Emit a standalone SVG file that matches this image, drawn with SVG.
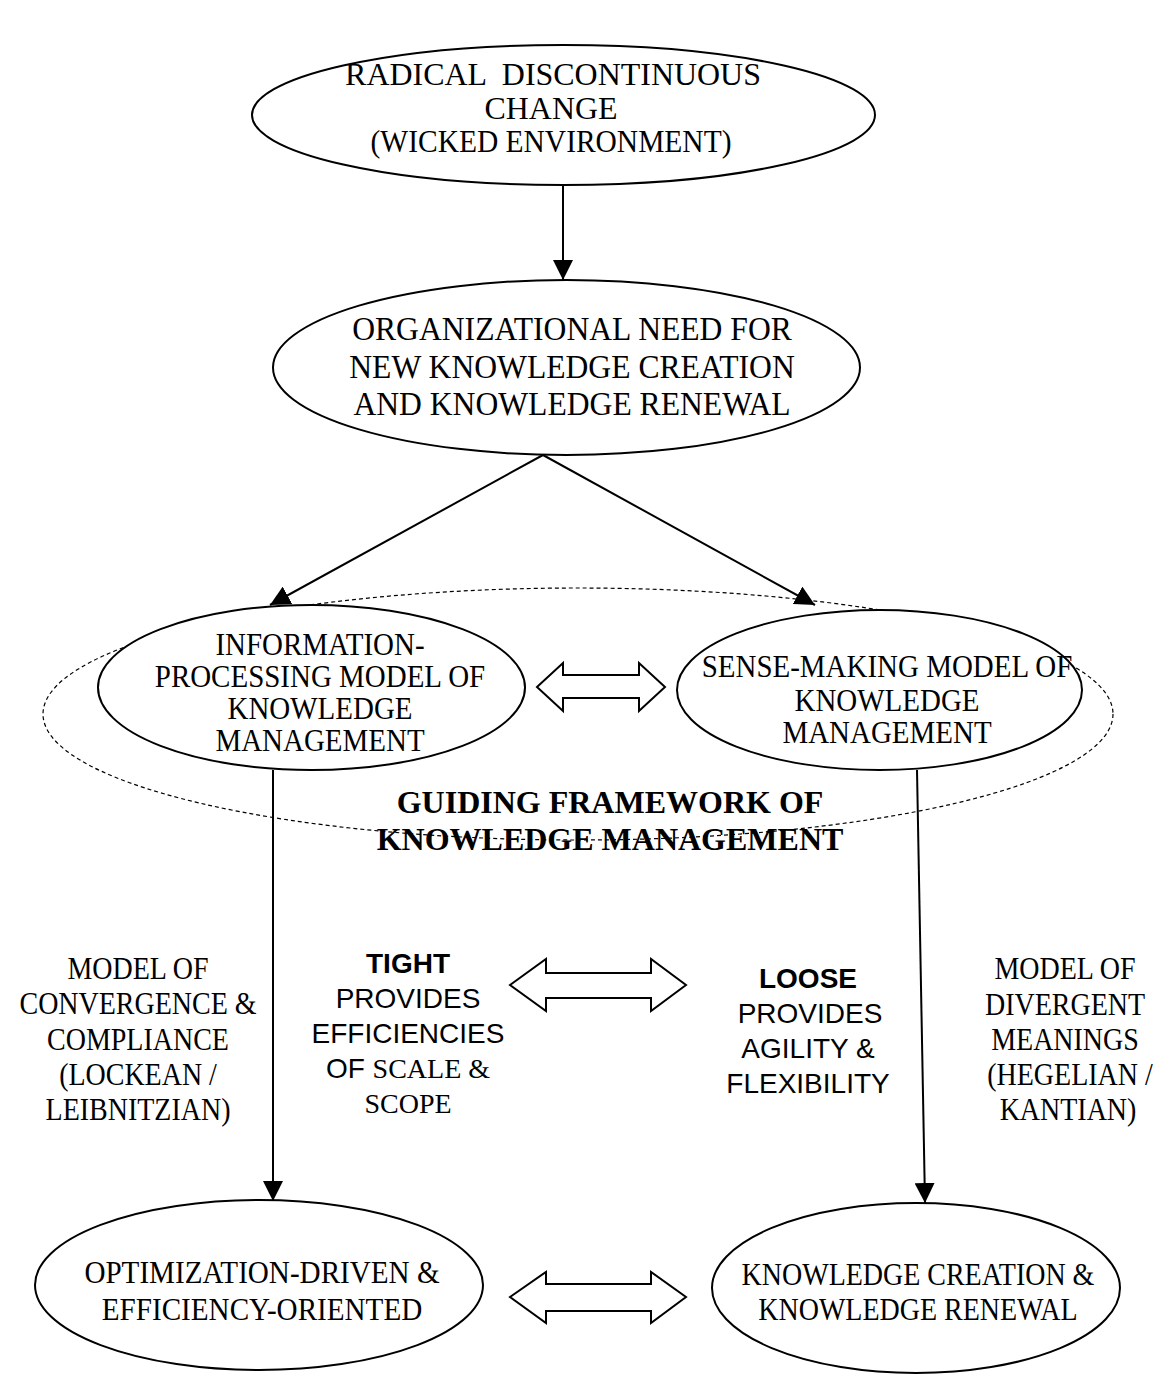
<svg xmlns="http://www.w3.org/2000/svg" width="1173" height="1376" viewBox="0 0 1173 1376">
<style>
.n{fill:#fff;stroke:#000;stroke-width:2}
.d{fill:none;stroke:#000;stroke-width:1.2;stroke-dasharray:4 3}
.c{stroke:#000;stroke-width:2;fill:none}
.da{fill:#fff;stroke:#000;stroke-width:2;stroke-linejoin:miter}
text{font-family:"Liberation Serif","Times New Roman",serif;fill:#000;text-anchor:middle}
.s{font-family:"Liberation Sans",Arial,sans-serif}
.b{font-weight:bold}
.t0{font-size:32.5px}
.t1{font-size:33.5px}
.t2{font-size:31.5px}
.t3{font-size:31px}
</style>
<defs>
<marker id="ah" markerUnits="userSpaceOnUse" markerWidth="20" markerHeight="20" refX="20" refY="10" orient="auto">
<path d="M0,0 L20,10 L0,20 Z" fill="#000"/>
</marker>
</defs>
<rect width="1173" height="1376" fill="#fff"/>
<g id="framework">
<ellipse class="d" cx="578" cy="714" rx="535" ry="126"/>
<text class="b" font-size="32" x="610" y="813">GUIDING FRAMEWORK OF</text>
<text class="b" font-size="32" x="610" y="850">KNOWLEDGE MANAGEMENT</text>
</g>
<g id="connectors">
<line class="c" x1="563" y1="185" x2="563" y2="280" marker-end="url(#ah)"/>
<line class="c" x1="543" y1="455" x2="270" y2="605" marker-end="url(#ah)"/>
<line class="c" x1="543" y1="455" x2="815" y2="605" marker-end="url(#ah)"/>
<line class="c" x1="273" y1="770" x2="273" y2="1201" marker-end="url(#ah)"/>
<line class="c" x1="917" y1="770" x2="925" y2="1203" marker-end="url(#ah)"/>
<polygon class="da" points="537,687 563,663 563,675 639,675 639,663 665,687 639,711 639,698 563,698 563,711"/>
<polygon class="da" points="510,985 546,959 546,973 651,973 651,959 686,985 651,1011 651,998 546,998 546,1011"/>
<polygon class="da" points="510,1297 546,1272 546,1284 651,1284 651,1272 686,1297 651,1323 651,1311 546,1311 546,1323"/>
</g>
<g id="radical">
<ellipse class="n" cx="563.5" cy="115" rx="311.5" ry="70"/>
<text class="t0" transform="translate(553 85) scale(0.983 1)" xml:space="preserve">RADICAL  DISCONTINUOUS</text>
<text class="t0" transform="translate(551 119) scale(0.983 1)">CHANGE</text>
<text class="t0" transform="translate(551 152) scale(0.907 1)">(WICKED ENVIRONMENT)</text>
</g>
<g id="need">
<ellipse class="n" cx="566.5" cy="367.5" rx="293.5" ry="87.5"/>
<text class="t1" transform="translate(572 340) scale(0.944 1)">ORGANIZATIONAL NEED FOR</text>
<text class="t1" transform="translate(572 378) scale(0.944 1)">NEW KNOWLEDGE CREATION</text>
<text class="t1" transform="translate(572 415) scale(0.944 1)">AND KNOWLEDGE RENEWAL</text>
</g>
<g id="info">
<ellipse class="n" cx="311.5" cy="687.5" rx="213.5" ry="82.5"/>
<text class="t2" transform="translate(320 655) scale(0.92 1)">INFORMATION-</text>
<text class="t2" transform="translate(320 687) scale(0.92 1)">PROCESSING MODEL OF</text>
<text class="t2" transform="translate(320 719) scale(0.92 1)">KNOWLEDGE</text>
<text class="t2" transform="translate(320 751) scale(0.92 1)">MANAGEMENT</text>
</g>
<g id="sense">
<ellipse class="n" cx="879.5" cy="690" rx="202.5" ry="80"/>
<text class="t2" transform="translate(887 677) scale(0.92 1)">SENSE-MAKING MODEL OF</text>
<text class="t2" transform="translate(887 711) scale(0.92 1)">KNOWLEDGE</text>
<text class="t2" transform="translate(887 743) scale(0.92 1)">MANAGEMENT</text>
</g>
<g id="convergence">
<text class="t3" transform="translate(138 979) scale(0.903 1)">MODEL OF</text>
<text class="t3" transform="translate(138 1014) scale(0.903 1)">CONVERGENCE &amp;</text>
<text class="t3" transform="translate(138 1050) scale(0.903 1)">COMPLIANCE</text>
<text class="t3" transform="translate(138 1085) scale(0.903 1)">(LOCKEAN /</text>
<text class="t3" transform="translate(138 1120) scale(0.903 1)">LEIBNITZIAN)</text>
</g>
<g id="tight">
<text class="s b" font-size="28" x="408" y="973">TIGHT</text>
<text class="s" font-size="28" x="408" y="1008">PROVIDES</text>
<text class="s" font-size="28" x="408" y="1043">EFFICIENCIES</text>
<text font-size="28" x="408" y="1078"><tspan class="s">OF </tspan>SCALE &amp;</text>
<text font-size="28" x="408" y="1113">SCOPE</text>
</g>
<g id="loose">
<text class="s b" font-size="28" x="808" y="988">LOOSE</text>
<text class="s" font-size="28" x="810" y="1023">PROVIDES</text>
<text class="s" font-size="28" x="808" y="1058">AGILITY &amp;</text>
<text class="s" font-size="28" x="808" y="1093">FLEXIBILITY</text>
</g>
<g id="divergent">
<text class="t3" transform="translate(1065 979) scale(0.903 1)">MODEL OF</text>
<text class="t3" transform="translate(1065 1015) scale(0.903 1)">DIVERGENT</text>
<text class="t3" transform="translate(1065 1050) scale(0.903 1)">MEANINGS</text>
<text class="t3" transform="translate(1070 1085) scale(0.903 1)">(HEGELIAN /</text>
<text class="t3" transform="translate(1068 1120) scale(0.903 1)">KANTIAN)</text>
</g>
<g id="optimization">
<ellipse class="n" cx="259" cy="1285" rx="224" ry="85"/>
<text class="t3" transform="translate(262 1283) scale(0.94 1)">OPTIMIZATION-DRIVEN &amp;</text>
<text class="t3" transform="translate(262 1320) scale(0.94 1)">EFFICIENCY-ORIENTED</text>
</g>
<g id="creation">
<ellipse class="n" cx="916" cy="1288" rx="204" ry="85"/>
<text class="t3" transform="translate(918 1285) scale(0.903 1)">KNOWLEDGE CREATION &amp;</text>
<text class="t3" transform="translate(918 1320) scale(0.903 1)">KNOWLEDGE RENEWAL</text>
</g>
</svg>
